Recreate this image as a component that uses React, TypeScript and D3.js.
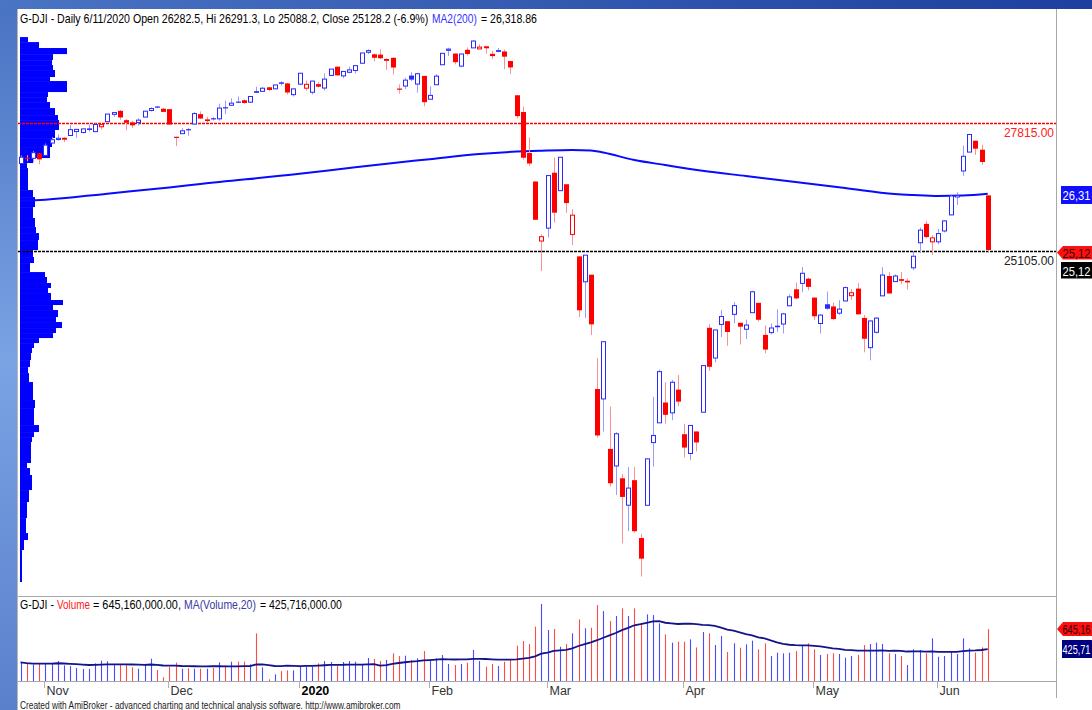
import React, { useLayoutEffect, useRef, useState } from "react";
import * as d3 from "d3";

// ---------- DATA ----------
const tradingDays: [string, number[]][] = [
  ["2019-10", [28, 29, 30, 31]],
  ["2019-11", [1, 4, 5, 6, 7, 8, 11, 12, 13, 14, 15, 18, 19, 20, 21, 22, 25, 26, 27, 29]],
  ["2019-12", [2, 3, 4, 5, 6, 9, 10, 11, 12, 13, 16, 17, 18, 19, 20, 23, 24, 26, 27, 30, 31]],
  ["2020-01", [2, 3, 6, 7, 8, 9, 10, 13, 14, 15, 16, 17, 21, 22, 23, 24, 27, 28, 29, 30, 31]],
  ["2020-02", [3, 4, 5, 6, 7, 10, 11, 12, 13, 14, 18, 19, 20, 21, 24, 25, 26, 27, 28]],
  ["2020-03", [2, 3, 4, 5, 6, 9, 10, 11, 12, 13, 16, 17, 18, 19, 20, 23, 24, 25, 26, 27, 30, 31]],
  ["2020-04", [1, 2, 3, 6, 7, 8, 9, 13, 14, 15, 16, 17, 20, 21, 22, 23, 24, 27, 28, 29, 30]],
  ["2020-05", [1, 4, 5, 6, 7, 8, 11, 12, 13, 14, 15, 18, 19, 20, 21, 22, 26, 27, 28, 29]],
  ["2020-06", [1, 2, 3, 4, 5, 8, 9, 10, 11]],
];

const opens = [
  26958, 27082, 27068, 27175,
  27129, 27391, 27466, 27473, 27551, 27634, 27615, 27690, 27633, 27736,
  27843, 27999, 28073, 27876, 27830, 27825, 27941, 28081, 28166, 28118,
  28109, 27525, 27590, 27686, 27794, 28003, 27867, 27917, 27904, 28150,
  28191, 28269, 28297, 28257, 28491, 28486, 28572, 28539, 28676, 28654,
  28416, 28638, 28553, 28466, 28639, 28556, 28823, 29008, 28813, 28889,
  28927, 29081, 29313, 29270, 29263, 29142, 29196, 28545, 28598, 28820,
  28640, 28813, 28319, 28626, 29049, 29354, 29286, 29020, 29366, 29406,
  29384, 29440, 29280, 29332, 29330, 29128, 28403, 28048, 27180, 26577,
  25317, 25590, 26763, 26383, 26519, 25457, 24992, 24454, 24604, 22184,
  21974, 20916, 20555, 20294, 19724, 20254, 19029, 19722, 21050, 21468,
  21898, 21679, 22171, 21227, 20819, 21285, 21693, 23480, 22840, 23551,
  23619, 23765, 23586, 23449, 23800, 24008, 23330, 23378, 23515, 23560,
  23946, 24295, 24420, 24520, 24120, 23571, 23978, 23932, 23790, 24048,
  24160, 24310, 23689, 23060, 23385, 24156, 24576, 24458, 24510, 24455,
  24750, 25280, 25680, 25300, 25300, 25530, 25870, 26250, 26800, 27200,
  27440, 27250, 26282.5,
];
const highs = [
  27128, 27136, 27221, 27176,
  27381, 27515, 27572, 27515, 27775, 27681, 27691, 27784, 27808, 27793,
  28005, 28036, 28090, 27901, 27862, 27915, 28067, 28147, 28175, 28134,
  28109, 27525, 27705, 27709, 28046, 28061, 27947, 27941, 28225, 28290,
  28338, 28376, 28316, 28377, 28582, 28575, 28576, 28621, 28701, 28665,
  28547, 28873, 28716, 28709, 28686, 28866, 28957, 29010, 28908, 29009,
  29033, 29298, 29374, 29287, 29373, 29188, 29210, 28633, 28775, 28893,
  28879, 28814, 28592, 28854, 29291, 29409, 29286, 29277, 29415, 29568,
  29485, 29440, 29342, 29407, 29370, 29128, 28403, 28163, 27509, 26577,
  25460, 26707, 27084, 27091, 26519, 25995, 24992, 25020, 24604, 22838,
  23186, 21811, 21270, 20384, 20531, 20532, 19122, 20712, 22019, 22596,
  22328, 22378, 22480, 21448, 21413, 21285, 22680, 23560, 23435, 23856,
  23619, 24024, 23586, 23652, 24265, 24008, 23535, 23571, 23872, 23798,
  24187, 24439, 24765, 24546, 24120, 23767, 24247, 24015, 24064, 24353,
  24302, 24427, 23752, 23632, 23704, 24764, 24656, 24611, 24664, 24521,
  25100, 25600, 25740, 25440, 25572, 25760, 26306, 26350, 27339, 27580,
  27447, 27355, 26291.3,
];
const lows = [
  26958, 27004, 26985, 26940,
  27129, 27391, 27438, 27412, 27551, 27500, 27594, 27632, 27633, 27674,
  27843, 27948, 27884, 27660, 27712, 27763, 27941, 28058, 28129, 28046,
  27783, 27325, 27590, 27546, 27794, 27908, 27822, 27868, 27864, 28003,
  28191, 28236, 28224, 28242, 28450, 28486, 28491, 28536, 28608, 28419,
  28376, 28627, 28500, 28421, 28565, 28502, 28823, 28819, 28766, 28869,
  28863, 29073, 29276, 29122, 29170, 28941, 28844, 28441, 28536, 28705,
  28460, 28170, 28319, 28626, 29049, 29235, 29057, 28996, 29243, 29406,
  29384, 29284, 29169, 29314, 28956, 28854, 27912, 27042, 26909, 25767,
  24681, 25391, 25707, 26383, 25914, 25227, 23707, 23690, 23328, 21154,
  21285, 20116, 19940, 18917, 19177, 19139, 18214, 19722, 20539, 21468,
  21451, 21523, 21817, 20735, 20677, 20863, 21693, 22565, 22751, 23284,
  23098, 23576, 23127, 23240, 23800, 23613, 22941, 23344, 23395, 23361,
  23946, 24084, 24234, 24273, 23645, 23361, 23862, 23640, 23750, 24048,
  24072, 23765, 22961, 22790, 23361, 24156, 24195, 24458, 24403, 24291,
  24700, 25060, 25374, 25020, 25248, 25498, 25862, 26080, 26699, 27200,
  27140, 26930, 25088.2,
];
const closes = [
  27091, 27071, 27187, 27046,
  27347, 27462, 27492.6, 27492.5, 27675, 27681, 27691, 27691.5, 27784, 27782,
  28005, 28036, 27934, 27821, 27766, 27876, 28066, 28122, 28164, 28051,
  27783, 27503, 27650, 27678, 28015, 27910, 27882, 27911, 28132, 28135,
  28236, 28267, 28239, 28377, 28455, 28552, 28515, 28621, 28645, 28462,
  28538, 28869, 28635, 28703, 28584, 28745, 28957, 28824, 28907, 28940,
  29030, 29298, 29348, 29196, 29186, 29160, 28990, 28536, 28723, 28734,
  28859, 28256, 28400, 28808, 29291, 29380, 29103, 29277, 29276, 29551,
  29423, 29398, 29232, 29348, 29220, 28992, 27961, 27081, 26958, 25767,
  25409, 26703, 25917, 27091, 26121, 25865, 23851, 25018, 23553, 21201,
  23186, 20189, 21237, 19899, 20087, 19174, 18592, 20705, 21201, 22552,
  21637, 22327, 21917, 20944, 21413, 21053, 22680, 22654, 23434, 23719,
  23391, 23950, 23504, 23538, 24242, 23650, 23019, 23476, 23515, 23775,
  24134, 24102, 24634, 24346, 23724, 23750, 23883, 23665, 23876, 24331,
  24222, 23765, 23248, 23625, 23685, 24597, 24207, 24576, 24474, 24465,
  24995, 25548, 25401, 25383, 25475, 25743, 26270, 26282, 27111, 27572,
  27272, 26990, 25128.2,
];
// volume, millions of shares
const volumes = [
  293, 276, 269, 283,
  276, 283, 307, 261, 254, 233, 223, 223, 283, 311,
  304, 276, 276, 269, 240, 226, 276, 332, 212, 134,
  244, 290, 226, 230, 226, 226, 226, 233, 293, 261,
  300, 300, 300, 272, 601, 240, 113, 166, 201, 208,
  208, 247, 247, 247, 283, 307, 297, 258, 297, 307,
  300, 276, 339, 329, 307, 318, 389, 360, 364, 318,
  336, 413, 307, 336, 371, 276, 265, 276, 290, 424,
  307, 247, 276, 254, 300, 318, 470, 519, 488, 671,
  912, 636, 647, 459, 488, 601, 749, 654, 661, 901,
  837, 731, 784, 866, 784, 866, 707, 802, 795, 707,
  590, 502, 512, 512, 537, 452, 615, 601, 477, 572,
  403, 495, 449, 484, 523, 431, 495, 360, 396, 389,
  396, 413, 477, 495, 431, 371, 382, 389, 382, 343,
  360, 371, 477, 488, 502, 488, 389, 382, 360, 265,
  431, 424, 389, 548, 353, 360, 406, 382, 548, 442,
  396, 452, 645.16,
];
// 200-day moving average at sample bars
const ma200Bar = [0, 4, 14, 24, 29, 45, 54, 66, 74, 80, 84, 89, 92, 94, 99, 104, 110, 117, 125, 133, 141, 144, 148, 152, 156];
const ma200Val = [26165, 26190, 26320, 26450, 26523, 26740, 26880, 27050, 27160, 27210, 27228, 27243, 27235, 27190, 27032, 26926, 26805, 26693, 26566, 26439, 26312, 26290, 26270, 26280, 26319];
const ma200Last = 26318.86;
// volume-at-price profile: bin edges (price) and relative volume per bin
const profileEdges = [29635, 29529, 29403, 29275, 29148, 29043, 28937, 28789, 28704, 28471, 28365, 28259, 28132, 27984, 27878, 27667, 27497, 27307, 27074, 26968, 26862, 26396, 26248, 26036, 25804, 25613, 25486, 25338, 25126, 24978, 24851, 24660, 24555, 24428, 24322, 24216, 24068, 23962, 23856, 23708, 23602, 23475, 23369, 23263, 23157, 23052, 22946, 22797, 22649, 22522, 22332, 21951, 21781, 21421, 21273, 21167, 21062, 20617, 20511, 20363, 20045, 19791, 19452, 19135, 18987, 18775, 18098];
const profileVolume = [8, 19, 47, 33, 32, 33, 35, 30, 47, 28, 27, 30, 35, 38, 39, 35, 32, 30, 13, 7, 8, 13, 15, 13, 15, 16, 19, 18, 13, 14, 10, 25, 27, 31, 28, 31, 43, 33, 38, 36, 42, 36, 33, 19, 14, 12, 11, 10, 8, 9, 13, 15, 14, 19, 14, 12, 11, 7, 10, 12, 9, 7, 6, 8, 4, 2];
const levelLines = [
  { value: 27815, color: "#ff0000", text: "#ff2020" },
  { value: 25105, color: "#000000", text: "#222222" },
];
const volumeMAValue = 425716000;

const FONT = "'Liberation Sans', Arial, sans-serif";

// text squeezed horizontally to a given width (the reference font is narrow)
function FitText({ x, y, width, children, ...rest }: any) {
  const ref = useRef<SVGTextElement>(null);
  const [s, setS] = useState(1);
  useLayoutEffect(() => {
    if (ref.current) {
      const w = ref.current.getComputedTextLength();
      if (w > 0) setS(width / w);
    }
  }, [width, children]);
  return (
    <text ref={ref} transform={`translate(${x},${y}) scale(${s},1)`} {...rest}>
      {children}
    </text>
  );
}

export default function App() {
  const dates = tradingDays.flatMap(([m, ds]) => ds.map((d) => `${m}-${String(d).padStart(2, "0")}`));
  const n = closes.length;
  const last = n - 1;

  const x = d3.scaleLinear().domain([0, n - 1]).range([20.5, 987.7]);
  const y = d3.scaleLinear().domain([17950, 29700]).range([589, 34]);
  const yv = d3.scaleLinear().domain([0, 1000]).range([690, 595.7]);
  const px = d3.scaleLinear().domain([0, 50]).range([20, 70]);

  const parse = d3.timeParse("%Y-%m-%d");
  const fmtMonth = d3.timeFormat("%b");
  const monthTicks: { i: number; label: string; bold: boolean }[] = [];
  dates.forEach((d, i) => {
    if (i === 0) return;
    if (d.slice(0, 7) !== dates[i - 1].slice(0, 7)) {
      const dt = parse(d)!;
      const jan = dt.getMonth() === 0;
      monthTicks.push({ i, label: jan ? String(dt.getFullYear()) : fmtMonth(dt), bold: jan });
    }
  });

  const volMA = volumes.map((_, i) => d3.mean(volumes.slice(Math.max(0, i - 19), i + 1)) as number);
  const volLine = d3.line<number>().x((_, i) => x(i)).y((v) => yv(v));
  const maLine = d3
    .line<number>()
    .x((_, k) => x(ma200Bar[k]))
    .y((v) => y(v))
    .curve(d3.curveMonotoneX);

  const pct = ((closes[last] / closes[last - 1] - 1) * 100).toFixed(1);
  const fmt2 = d3.format(",.2f");
  // the side labels are cut by the window edge in the reference
  const cut = (s: string, k: number) => s.slice(0, k);

  return (
    <svg
      width={1092}
      height={710}
      style={{ position: "absolute", left: 0, top: 0, fontFamily: FONT }}
    >
      <defs>
        <linearGradient id="topbar" x1="0" x2="1" y1="0" y2="0">
          <stop offset="0" stopColor="#4a74c4" />
          <stop offset="1" stopColor="#1e3f9e" />
        </linearGradient>
        <linearGradient id="leftbar" x1="0" x2="0" y1="0" y2="1">
          <stop offset="0" stopColor="#4a73c3" />
          <stop offset="0.5" stopColor="#7aa3e4" />
          <stop offset="1" stopColor="#5a80cc" />
        </linearGradient>
        <clipPath id="pricePanel">
          <rect x={18} y={9} width={1039} height={587} />
        </clipPath>
        <clipPath id="volPanel">
          <rect x={18} y={597} width={1039} height={84} />
        </clipPath>
      </defs>

      <rect x={0} y={0} width={1092} height={710} fill="#ffffff" />
      <rect x={0} y={0} width={1092} height={9} fill="url(#topbar)" />
      <rect x={0} y={9} width={17} height={701} fill="url(#leftbar)" />
      <line x1={17.5} x2={17.5} y1={9} y2={710} stroke="#b8b8b8" />

      {/* panel frame */}
      <line x1={1056.5} x2={1056.5} y1={9} y2={698} stroke="#a8a8a8" />
      <line x1={18} x2={1057} y1={596.5} y2={596.5} stroke="#a8a8a8" />
      <line x1={18} x2={1057} y1={681.5} y2={681.5} stroke="#a8a8a8" />

      {/* price panel */}
      <g clipPath="url(#pricePanel)">
        {profileVolume.map((v, k) => {
          const y0 = y(profileEdges[k]);
          const y1 = y(profileEdges[k + 1]);
          return <rect key={"p" + k} x={px(0)} y={y0} width={px(v) - px(0)} height={y1 - y0} fill="#0000ff" />;
        })}
        <path d={maLine(ma200Val) || ""} fill="none" stroke="#0a0aff" strokeWidth={2} />
        {levelLines.map((l, k) => (
          <line
            key={"l" + k}
            x1={18}
            x2={1056}
            y1={Math.round(y(l.value)) + 0.5}
            y2={Math.round(y(l.value)) + 0.5}
            stroke={l.color}
            strokeWidth={1.3}
            strokeDasharray="3,1"
          />
        ))}
        {closes.map((c, i) => {
          const o = opens[i];
          const prev = i > 0 ? closes[i - 1] : o;
          const up = c >= prev;
          const col = up ? "#2a2aff" : "#ff0000";
          const wick = up ? "#9a9aff" : "#ff9090";
          const cx = Math.round(x(i)) + 0.5;
          const yTop = y(Math.max(o, c));
          const yBot = y(Math.min(o, c));
          const filled = c < o;
          return (
            <g key={"c" + i}>
              <line x1={cx} x2={cx} y1={y(highs[i])} y2={y(lows[i])} stroke={wick} strokeWidth={1} />
              {filled ? (
                <rect x={cx - 2.5} y={yTop} width={5} height={Math.max(1.2, yBot - yTop)} fill={col} />
              ) : (
                <rect
                  x={cx - 2}
                  y={yTop}
                  width={4}
                  height={Math.max(0.6, yBot - yTop)}
                  fill="#ffffff"
                  stroke={col}
                  strokeWidth={1}
                />
              )}
            </g>
          );
        })}
        {levelLines.map((l, k) => (
          <text
            key={"lt" + k}
            x={1054}
            y={y(l.value) + 14}
            textAnchor="end"
            fontSize={12}
            fill={l.text}
          >
            {l.value.toFixed(2)}
          </text>
        ))}
      </g>

      {/* price title, in three pieces */}
      <FitText x={20} y={23} width={409} fontSize={12.5} fill="#000">
        {`G-DJI - Daily 6/11/2020 Open ${opens[last]}, Hi ${highs[last]}, Lo ${lows[last]}, Close ${closes[last]} (${pct}%)`}
      </FitText>
      <FitText x={432} y={23} width={45} fontSize={12.5} fill="#3333ff">MA2(200)</FitText>
      <FitText x={481} y={23} width={56} fontSize={12.5} fill="#000">{`= ${fmt2(ma200Last)}`}</FitText>

      {/* price right labels */}
      <rect x={1061} y={186} width={31} height={18} fill="#1010ff" />
      <FitText x={1062.5} y={200} width={28} fontSize={12.5} fill="#ffffff">{cut(fmt2(ma200Last), 5)}</FitText>
      <polygon points="1057,252.5 1063,246 1092,246 1092,259.5 1063,259.5" fill="#ff1010" />
      <FitText x={1062.5} y={257.5} width={28} fontSize={12.5} fill="#300000">{cut(fmt2(closes[last]), 5)}</FitText>
      <rect x={1061} y={262} width={31} height={16.5} fill="#000000" />
      <FitText x={1062.5} y={275.5} width={28} fontSize={12.5} fill="#ffffff">{cut(fmt2(closes[last]), 5)}</FitText>

      {/* volume panel */}
      <g clipPath="url(#volPanel)">
        {volumes.map((v, i) => {
          const cx = Math.round(x(i)) + 0.5;
          const red = closes[i] < opens[i];
          return (
            <line
              key={"v" + i}
              x1={cx}
              x2={cx}
              y1={yv(v)}
              y2={681}
              stroke={red ? "#ff4a4a" : "#4a4aff"}
              strokeWidth={1.1}
            />
          );
        })}
        <path d={volLine(volMA) || ""} fill="none" stroke="#14148a" strokeWidth={1.8} />
      </g>
      {/* volume title, in pieces */}
      <FitText x={20} y={609} width={34} fontSize={12.5} fill="#000">G-DJI -</FitText>
      <FitText x={57} y={609} width={33} fontSize={12.5} fill="#ff2020">Volume</FitText>
      <FitText x={93} y={609} width={88} fontSize={12.5} fill="#000">{`= ${fmt2(volumes[last] * 1e6)},`}</FitText>
      <FitText x={184} y={609} width={72} fontSize={12.5} fill="#3a3aa0">MA(Volume,20)</FitText>
      <FitText x={260} y={609} width={82} fontSize={12.5} fill="#000">{`= ${fmt2(volumeMAValue)}`}</FitText>

      <polygon points="1057,629 1063,622 1092,622 1092,636 1063,636" fill="#ff1010" />
      <FitText x={1062.5} y={634} width={28} fontSize={12} fill="#300000">
        {cut(d3.format(",")(volumes[last] * 1e6), 6)}
      </FitText>
      <rect x={1062} y={640} width={30} height={18} fill="#000080" />
      <FitText x={1062.5} y={654} width={28} fontSize={12} fill="#ffffff">
        {cut(d3.format(",")(volumeMAValue), 6)}
      </FitText>

      {/* x axis */}
      {monthTicks.map((t) => {
        const tx = Math.round(x(t.i)) - 0.5;
        return (
          <g key={"t" + t.i}>
            <line x1={tx} x2={tx} y1={682} y2={688} stroke="#b0b0b0" />
            <text
              x={tx + 2}
              y={695}
              fontSize={12.5}
              fill={t.bold ? "#000" : "#333"}
              fontWeight={t.bold ? "bold" : "normal"}
            >
              {t.label}
            </text>
          </g>
        );
      })}

      <FitText x={20} y={709} width={381} fontSize={10.5} fill="#222">
        Created with AmiBroker - advanced charting and technical analysis software. http://www.amibroker.com
      </FitText>
    </svg>
  );
}
